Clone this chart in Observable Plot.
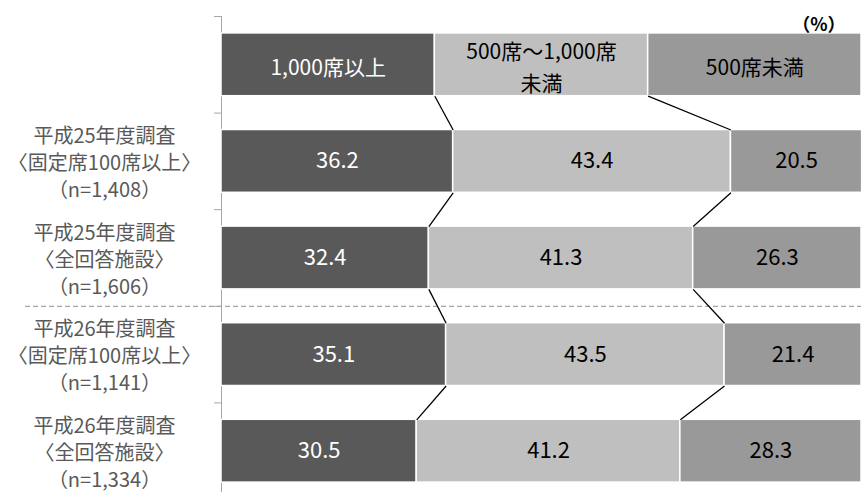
<!DOCTYPE html>
<html>
<head>
<meta charset="utf-8">
<script src="https://cdn.jsdelivr.net/npm/d3@7"></script>
<script src="https://cdn.jsdelivr.net/npm/@observablehq/plot@0.6"></script>
<style>
  html, body { margin: 0; padding: 0; background: #fff; }
  #chart svg { font-family: "Noto Sans CJK JP", "Noto Sans", sans-serif; }
</style>
</head>
<body>
<div id="chart"></div>
<script>
// Seat-capacity categories (header row labels)
const categories = ["1,000席以上", "500席～1,000席未満", "500席未満"];
const headerLabels = ["1,000席以上", "500席～1,000席\n未満", "500席未満"];

// Survey rows
const surveys = [
  "平成25年度調査\n〈固定席100席以上〉\n（n=1,408）",
  "平成25年度調査\n〈全回答施設〉\n（n=1,606）",
  "平成26年度調査\n〈固定席100席以上〉\n（n=1,141）",
  "平成26年度調査\n〈全回答施設〉\n（n=1,334）"
];

// Shares (%) per survey row
const seats1000plus  = [36.2, 32.4, 35.1, 30.5];
const seats500to1000 = [43.4, 41.3, 43.5, 41.2];
const seatsUnder500  = [20.5, 26.3, 21.4, 28.3];

const fills = ["#595959", "#bfbfbf", "#999999"];

// Row 0 is the header bar, split evenly among the categories
const headerShares = categories.map(() => 100 / categories.length);
const rowValues = [
  headerShares,
  ...surveys.map((_, i) => [seats1000plus[i], seats500to1000[i], seatsUnder500[i]])
];

const half = 0.325; // half bar thickness in row units

const segments = rowValues.flatMap((vals, row) => {
  let acc = 0;
  return vals.map((v, cat) => {
    const x1 = acc;
    acc += v;
    return {row, cat, x1, x2: acc, label: row === 0 ? headerLabels[cat] : v.toFixed(1)};
  });
});

const seg = (row, cat) => segments.find(d => d.row === row && d.cat === cat);

// Connector lines between matching category boundaries of consecutive rows
const links = [];
for (let r = 0; r < rowValues.length - 1; r++) {
  for (let c = 0; c < categories.length - 1; c++) {
    links.push({x1: seg(r, c).x2, y1: r + half, x2: seg(r + 1, c).x2, y2: r + 1 - half});
  }
}

const boundaries = d3.range(rowValues.length).map(i => i - 0.5);
const surveyRows = surveys.map((text, i) => ({row: i + 1, text}));

const chart = Plot.plot({
  width: 861,
  height: 492,
  marginLeft: 221,
  marginRight: 0,
  marginTop: 16,
  marginBottom: 0,
  x: {domain: [0, 100], axis: null},
  y: {domain: [-0.5, rowValues.length - 0.5], range: [16, 499]},
  color: {type: "ordinal", domain: categories, range: fills},
  style: {background: "#fff", fontFamily: "\"Noto Sans CJK JP\", sans-serif"},
  marks: [
    Plot.ruleY([2.5], {stroke: "#8c8c8c", strokeDasharray: "5,3", insetLeft: -196}),
    Plot.axisY(boundaries, {tickSize: 7, tickFormat: () => "", stroke: "#a6a6a6", label: null}),
    Plot.ruleX([0], {stroke: "#a6a6a6"}),
    Plot.rectX(segments, {
      x1: "x1", x2: "x2",
      y1: d => d.row - half, y2: d => d.row + half,
      fill: d => categories[d.cat],
      stroke: "white", strokeWidth: 1.5
    }),
    Plot.link(links, {x1: "x1", y1: "y1", x2: "x2", y2: "y2", stroke: "black", strokeWidth: 1.3}),
    // header labels
    Plot.text(segments, {
      filter: d => d.row === 0,
      x: d => (d.x1 + d.x2) / 2, y: "row", text: "label",
      fill: d => d.cat === 0 ? "white" : "black",
      fontSize: 21, lineHeight: 1.5
    }),
    // value labels
    Plot.text(segments, {
      filter: d => d.row > 0,
      x: d => (d.x1 + d.x2) / 2, y: "row", text: "label",
      fill: d => d.cat === 0 ? "white" : "black",
      fontSize: 22
    }),
    // survey names
    Plot.text(surveyRows, {
      y: "row", text: "text", frameAnchor: "left", dx: -117,
      textAnchor: "middle", fill: "#595959", fontSize: 20, lineHeight: 1.36
    }),
    Plot.text(["（%）"], {
      frameAnchor: "top-right", text: d => d, dx: -16, dy: 9,
      textAnchor: "end", lineAnchor: "middle", fontSize: 18, fontWeight: "bold", fill: "black"
    })
  ]
});

document.getElementById("chart").append(chart);
</script>
</body>
</html>
